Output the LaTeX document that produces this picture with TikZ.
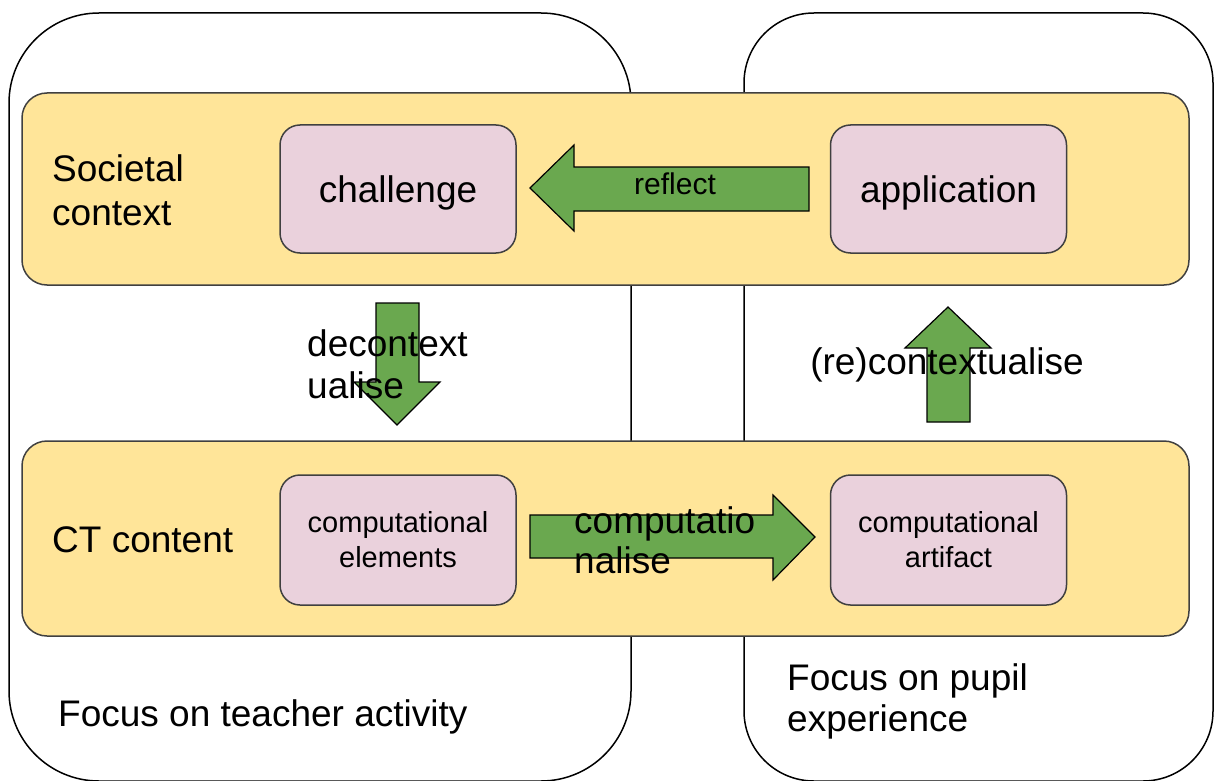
\documentclass[tikz,border=0pt]{standalone}
\usepackage{fontspec}
\setmainfont{Liberation Sans}

\definecolor{bandyellow}{HTML}{FFE599}
\definecolor{boxpink}{HTML}{EAD1DC}
\definecolor{arrowgreen}{HTML}{6AA84F}

\tikzset{
	focus/.style={draw=black, fill=white, line width=1.5pt, inner sep=0pt},
	band/.style={draw=black!75, fill=bandyellow, line width=1.5pt, rounded corners=25pt,
		minimum width=1167pt, inner sep=0pt},
	item/.style={draw=black!75, fill=boxpink, line width=1.5pt, rounded corners=20pt,
		minimum width=236pt, minimum height=128pt, inner sep=0pt, align=center,
		font=\fontsize{37}{42}\selectfont},
	smallitem/.style={item, font=\fontsize{29}{35}\selectfont},
	blockarrow/.style={draw=black, fill=arrowgreen, line width=1.2pt, line join=miter},
	lbl/.style={inner sep=0pt, align=left, font=\fontsize{37}{42}\selectfont},
}

\begin{document}
\begin{tikzpicture}[x=1pt, y=-1pt]
	\useasboundingbox (0,0) rectangle (1215,781);

	% the two areas of focus
	\node[focus, rounded corners=90pt, minimum width=622pt, minimum height=768pt] (teacher) at (320,397) {};
	\node[focus, rounded corners=70pt, minimum width=469pt, minimum height=768pt] (pupil) at (978.5,397) {};

	% layers
	\node[band, minimum height=192pt] (societal) at (605.5,189) {};
	\node[band, minimum height=195pt] (ct) at (605.5,538.5) {};

	\node[item, text height=31pt, text depth=4pt] (challenge) at (398,189) {challenge};
	\node[item, text height=31pt, text depth=4pt] (application) at (948.5,189) {application};
	\node[smallitem, minimum height=130pt] (elements) at (398,540) {computational\\elements};
	\node[smallitem, minimum height=130pt] (artifact) at (948.5,540) {computational\\artifact};

	% block arrows between the boxes
	\draw[blockarrow] (530,188) -- (574,145) -- (574,167) -- (809,167) -- (809,211)
		-- (574,211) -- (574,231) -- cycle;
	\draw[blockarrow] (376,303) -- (419,303) -- (419,382) -- (440,382) -- (397,425)
		-- (354,382) -- (376,382) -- cycle;
	\draw[blockarrow] (530,515) -- (773,515) -- (773,495) -- (815,537) -- (773,580)
		-- (773,558) -- (530,558) -- cycle;
	\draw[blockarrow] (927,422) -- (970,422) -- (970,348) -- (991,348) -- (948,307)
		-- (905,348) -- (927,348) -- cycle;

	\node[lbl, anchor=west, font=\fontsize{37}{44}\selectfont] (societallbl) at (52,190) {Societal\\context};
	\node[lbl, anchor=west] (ctlbl) at (52,540) {CT content};
	\node[lbl, font=\fontsize{30}{36}\selectfont] (reflect) at (675,184) {reflect};
	\node[lbl, anchor=west] (decontext) at (307,364) {decontext\\ualise};
	\node[lbl, font=\fontsize{37}{40}\selectfont, anchor=west] (comput) at (574,540) {computatio\\nalise};
	\node[lbl] (recontext) at (947,365) {(re)contextualise};

	\node[lbl, anchor=west] (teacherlbl) at (58,717) {Focus on teacher activity};
	\node[lbl, anchor=west, font=\fontsize{37}{41}\selectfont] (pupillbl) at (787,701) {Focus on pupil\\experience};
\end{tikzpicture}
\end{document}
